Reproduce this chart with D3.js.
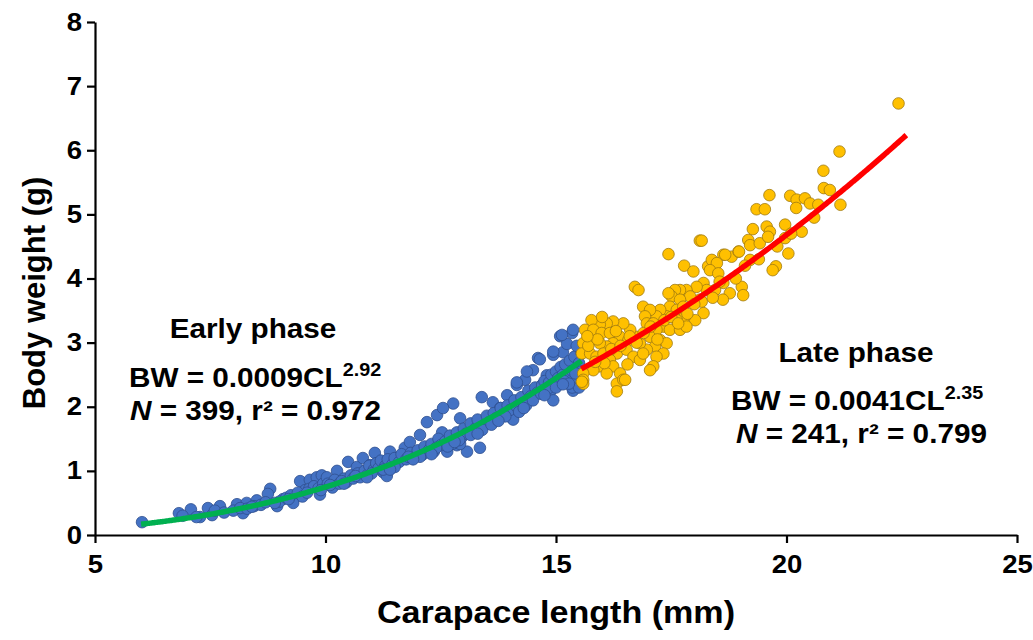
<!DOCTYPE html>
<html>
<head>
<meta charset="utf-8">
<script src="https://cdn.jsdelivr.net/npm/d3@7"></script>
<style>
  html, body { margin: 0; padding: 0; background: #fff; }
  svg { display: block; font-family: "Liberation Sans", Arial, sans-serif; }
</style>
</head>
<body>
<svg id="chart" width="1033" height="640"></svg>
<script>
// Carapace length (mm) / body weight (g) — early phase (juveniles)
const earlyCL = [
  6.02,6.82,7.08,7.28,7.45,7.71,7.54,6.9,7.2,7.6,7.8,
  8.08,8.21,8.29,8.51,8.80,8.75,8.95,9.08,9.3,9.45,9.56,9.66,9.81,9.88,9.92,9.3,
  8.0,8.15,8.3,8.45,8.6,8.7,9.0,9.15,9.25,9.4,9.5,9.65,9.75,9.85,9.95,
  10.03,10.25,10.49,10.68,10.81,10.97,11.07,11.25,11.33,11.40,11.55,11.72,11.83,11.9,
  12.05,12.20,12.27,12.42,12.53,12.64,12.77,12.85,12.92,13.07,13.09,13.2,13.35,13.39,
  13.5,13.63,13.79,13.94,14.05,14.15,14.22,14.33,14.44,14.5,14.61,14.7,14.8,14.87,14.94,
  15.02,15.09,15.15,15.24,15.3,15.35,15.37,15.41,15.13,15.37,14.94,14.65,14.37,14.15,
  12.55,12.92,14.94,15.35,14.07,
  10.05,10.15,10.2,10.3,10.4,10.45,10.55,10.6,10.7,10.75,10.85,10.9,10.95,
  11.05,11.1,11.15,11.2,11.3,11.35,11.45,11.5,11.6,11.65,11.75,11.85,11.95,
  12.0,12.1,12.15,12.25,12.3,12.35,12.45,12.5,12.6,12.7,12.75,12.85,12.95,
  13.0,13.05,13.15,13.25,13.3,13.45,13.5,13.55,13.65,13.7,13.8,13.85,13.95,
  14.0,14.1,14.15,14.25,14.3,14.4,14.45,14.55,14.6,14.7,14.75,14.85,14.9,14.95,
  15.0,15.05,15.1,15.15,15.2,15.25,15.3,15.35,15.4,15.45,15.5,15.55,15.45,15.5,15.55,
  10.1,10.35,10.65,11.0,11.25,11.5,11.8,12.05,12.4,12.65,12.9,13.15,13.4,13.6,13.9,
  14.2,14.35,14.5,14.68,14.82,15.0,15.18,15.28,15.42,
  8.4,8.9,9.2,9.6,9.9,10.4,10.9,11.4,11.9,12.3,12.8,13.3,13.75,14.3,14.75,15.15
];
const earlyBW = [
  0.20,0.34,0.40,0.28,0.42,0.45,0.31,0.30,0.28,0.38,0.35,
  0.48,0.34,0.50,0.54,0.72,0.64,0.45,0.56,0.55,0.84,0.70,0.86,0.90,0.63,0.93,0.50,
  0.38,0.42,0.41,0.45,0.47,0.51,0.52,0.58,0.62,0.66,0.60,0.72,0.76,0.73,0.80,
  0.90,1.00,1.14,1.06,1.20,1.09,1.28,0.98,0.92,1.30,1.20,1.36,1.45,1.22,
  1.56,1.76,1.36,1.87,1.60,1.30,2.05,1.40,1.82,1.30,1.64,1.71,1.36,2.15,
  1.82,2.07,1.98,2.18,1.82,2.34,2.07,2.42,2.23,2.57,2.76,2.34,2.49,2.23,2.81,
  2.45,3.10,2.85,2.98,2.60,3.15,2.25,2.78,3.12,3.20,2.86,2.74,2.55,2.38,
  1.98,1.42,2.10,2.30,1.80,
  0.80,0.74,0.86,0.80,0.88,0.82,0.93,0.88,0.96,0.90,1.00,0.93,1.08,
  1.02,1.12,1.04,1.16,1.08,1.18,1.10,1.20,1.14,1.26,1.18,1.28,1.22,
  1.32,1.25,1.38,1.33,1.42,1.30,1.50,1.40,1.46,1.55,1.42,1.60,1.52,
  1.66,1.58,1.74,1.66,1.80,1.72,1.86,1.76,1.90,1.82,1.98,1.88,2.02,
  1.95,2.10,2.00,2.15,2.06,2.25,2.16,2.30,2.22,2.34,2.40,2.38,2.50,2.36,
  2.55,2.45,2.62,2.50,2.66,2.44,2.72,2.56,2.78,2.42,2.68,2.85,2.95,2.30,2.55,
  0.78,0.84,0.92,0.96,1.02,1.06,1.22,1.22,1.36,1.38,1.48,1.56,1.64,1.72,1.85,
  1.92,2.02,2.10,2.20,2.28,2.30,2.40,2.36,2.52,
  0.44,0.50,0.56,0.66,0.70,0.80,0.90,1.02,1.18,1.26,1.45,1.58,1.78,1.98,2.18,2.35
];

// Late phase (adults)
const lateCL = [
  22.43,21.15,20.8,20.81,20.94,21.17,19.63,20.08,20.22,20.4,20.51,20.69,20.21,19.35,19.53,
  19.27,19.57,19.64,19.97,19.97,20.33,19.17,19.21,19.42,20.04,19.77,19.7,
  18.12,17.44,17.78,17.98,18.3,18.38,18.63,18.81,18.96,18.49,18.34,18.52,18.63,19.21,
  19.03,19.06,18.77,18.62,18.45,18.2,18.27,18.05,18.12,18.2,18.02,17.83,17.69,17.58,
  17.51,17.44,17.91,17.69,17.47,17.62,17.76,17.8,17.62,17.4,17.26,17.18,16.71,16.79,
  16.89,17.04,16.93,16.97,17.11,17.33,17.47,17.69,17.83,17.18,17.04,17.26,17.4,17.15,
  16.97,17.33,17.18,17.11,17.04,16.82,16.75,16.61,16.46,16.24,16.1,15.95,15.77,15.63,
  15.81,15.99,16.17,16.39,16.57,16.24,16.1,15.95,15.74,15.59,15.56,15.74,15.88,16.03,
  16.32,16.53,16.68,16.82,16.89,16.17,15.95,16.24,16.39,16.1,15.81,15.59,15.59,15.59,
  16.32,16.46,16.32,16.5,15.56,19.6,18.16,18.67,18.97,18.16,
  15.7,15.9,16.05,16.2,16.4,16.6,16.75,16.9,17.05,17.2,17.35,17.5,17.65,17.85,18.0,
  18.4,18.55,18.9,19.1,19.4,19.8,20.1,20.6,15.68,15.85,16.0,16.3,16.55
];
const lateBW = [
  6.73,5.98,5.68,5.41,5.38,5.15,5.30,5.29,5.23,5.25,5.17,5.15,5.10,5.08,5.08,
  4.77,4.81,4.73,4.84,4.63,4.73,4.60,4.52,4.55,4.39,4.19,4.13,
  4.59,4.38,4.20,4.11,4.19,4.29,4.37,4.34,4.42,4.24,4.13,4.08,3.93,4.29,
  3.87,3.74,3.77,3.67,3.82,3.93,3.82,3.87,3.67,3.46,3.35,3.82,3.82,3.82,
  3.72,3.77,3.72,3.67,3.56,3.51,3.56,3.41,3.35,3.41,3.51,3.41,3.87,3.82,
  3.56,3.51,3.41,3.30,3.30,3.25,3.20,3.20,3.25,3.20,3.09,3.04,2.99,2.94,
  2.89,2.83,2.78,2.63,2.57,2.99,3.09,3.20,3.30,3.33,3.30,3.28,3.35,3.20,
  3.20,3.15,3.15,3.09,3.04,2.99,2.94,2.99,3.04,2.99,2.83,2.83,2.78,2.83,
  2.83,2.89,2.78,2.73,2.83,2.73,2.63,2.63,2.52,2.52,2.57,2.52,2.42,2.36,
  2.36,2.42,2.24,2.42,2.39,4.65,3.64,4.37,4.42,4.59,
  2.95,3.05,2.68,2.90,2.95,3.10,3.00,3.15,3.25,3.05,3.35,3.40,3.30,3.45,3.60,
  3.70,3.95,4.00,4.20,4.30,4.50,4.70,4.95,3.10,2.70,3.40,3.18,2.66
];

// Fitted allometric curves BW = a * CL^b
const earlyFit = { a: 0.0009, b: 2.92, from: 6.0, to: 15.55 };
const lateFit  = { a: 0.0041, b: 2.35, from: 15.55, to: 22.6 };

const xTicks = [5, 10, 15, 20, 25];
const yTicks = [0, 1, 2, 3, 4, 5, 6, 7, 8];

const margin = { left: 95, right: 16, top: 22, bottom: 105 };
const W = 1033, H = 640;
const SX = 1.1; // horizontal stretch applied to text glyphs

const svg = d3.select("#chart");
const x = d3.scaleLinear().domain([5, 25]).range([margin.left, W - margin.right]);
const y = d3.scaleLinear().domain([0, 8]).range([H - margin.bottom, margin.top]);

// axes
const xAxis = svg.append("g")
  .attr("transform", `translate(0,${y(0)})`)
  .call(d3.axisBottom(x).tickValues(xTicks).tickSize(8).tickSizeOuter(0).tickPadding(12));
const yAxis = svg.append("g")
  .attr("transform", `translate(${x(5)},0)`)
  .call(d3.axisLeft(y).tickValues(yTicks).tickSize(8).tickSizeOuter(0).tickPadding(5));

[xAxis, yAxis].forEach(g => {
  g.select(".domain").attr("stroke", "#000").attr("stroke-width", 2.2);
  g.selectAll(".tick line").attr("stroke", "#000").attr("stroke-width", 2.2);
  g.selectAll(".tick text")
    .attr("fill", "#000")
    .attr("font-family", "Liberation Sans, Arial, sans-serif")
    .attr("font-weight", "bold")
    .attr("font-size", 25)
    .attr("transform", `scale(${SX},1)`);
});
yAxis.selectAll(".tick text").attr("x", -13 / SX);

// scatter points
const earlyPts = earlyCL.map((c, i) => [c, earlyBW[i]]);
const latePts = lateCL.map((c, i) => [c, lateBW[i]]);

svg.append("g").selectAll("circle").data(earlyPts).join("circle")
  .attr("cx", d => x(d[0])).attr("cy", d => y(d[1])).attr("r", 5.8)
  .attr("fill", "#4472C4").attr("stroke", "#2F4F8F").attr("stroke-width", 0.8);

svg.append("g").selectAll("circle").data(latePts).join("circle")
  .attr("cx", d => x(d[0])).attr("cy", d => y(d[1])).attr("r", 5.8)
  .attr("fill", "#FFC000").attr("stroke", "#A07A10").attr("stroke-width", 0.8);

// fitted curves
function curvePoints(fit) {
  return d3.range(fit.from, fit.to + 1e-9, 0.05).map(c => [c, fit.a * Math.pow(c, fit.b)]);
}
const line = d3.line().x(d => x(d[0])).y(d => y(d[1])).curve(d3.curveMonotoneX);

svg.append("path").datum(curvePoints(earlyFit)).attr("d", line)
  .attr("fill", "none").attr("stroke", "#00B050").attr("stroke-width", 5.5);
svg.append("path").datum(curvePoints(lateFit)).attr("d", line)
  .attr("fill", "none").attr("stroke", "#FF0000").attr("stroke-width", 5.5);

// horizontal text helper (stretched glyphs)
function hText(px, py, size, anchor) {
  return svg.append("g").attr("transform", `translate(${px},${py}) scale(${SX},1)`)
    .append("text").attr("text-anchor", anchor || "start")
    .attr("font-weight", "bold").attr("font-size", size).attr("fill", "#000");
}

// axis titles
hText((x(5) + x(25)) / 2, 623, 31, "middle").text("Carapace length (mm)");
svg.append("text")
  .attr("transform", `translate(45,293) rotate(-90)`)
  .attr("text-anchor", "middle").attr("font-weight", "bold").attr("font-size", 31)
  .text("Body weight (g)");

// equation annotations
function annotate(cx, title, a, b, n, r2, tx, ty) {
  hText(cx, ty[0], 27, "middle").text(title);
  const eq = hText(tx[0], ty[1], 27);
  eq.append("tspan").text(`BW = ${a}CL`);
  eq.append("tspan").attr("font-size", 18).attr("dy", -11).text(b);
  const st = hText(tx[1], ty[2], 27);
  st.append("tspan").attr("font-style", "italic").text("N");
  st.append("tspan").text(` = ${n}, r\u00B2 = ${r2}`);
}
annotate(253, "Early phase", "0.0009", "2.92", 399, "0.972", [129, 130], [338, 387, 420]);
annotate(856, "Late phase", "0.0041", "2.35", 241, "0.799", [731, 736], [362, 410, 443]);
</script>
</body>
</html>
